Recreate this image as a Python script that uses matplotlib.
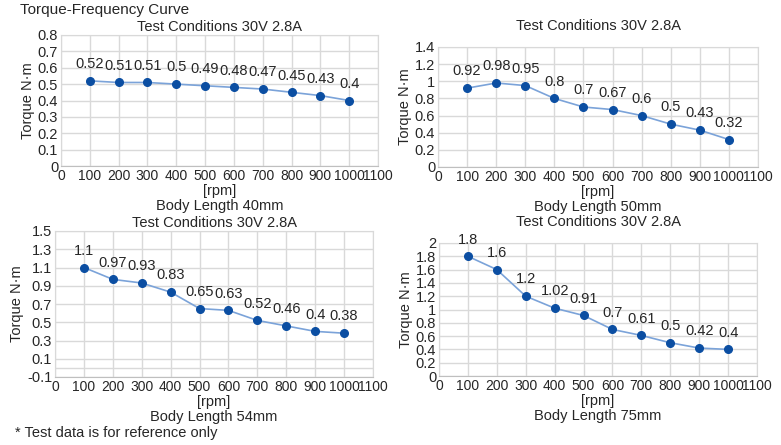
import matplotlib
matplotlib.use('Agg')
import matplotlib.pyplot as plt
import numpy as np

plt.rcParams['font.family'] = ['Liberation Sans', 'DejaVu Sans']

rpm = [100, 200, 300, 400, 500, 600, 700, 800, 900, 1000]
torque_40 = [0.52, 0.51, 0.51, 0.5, 0.49, 0.48, 0.47, 0.45, 0.43, 0.4]
torque_50 = [0.92, 0.98, 0.95, 0.8, 0.7, 0.67, 0.6, 0.5, 0.43, 0.32]
torque_54 = [1.1, 0.97, 0.93, 0.83, 0.65, 0.63, 0.52, 0.46, 0.4, 0.38]
torque_75 = [1.8, 1.6, 1.2, 1.02, 0.91, 0.7, 0.61, 0.5, 0.42, 0.4]
labels = ['Body Length 40mm', 'Body Length 50mm', 'Body Length 54mm', 'Body Length 75mm']
title = 'Test Conditions 30V 2.8A'
x_ticks = np.arange(0, 1101, 100)

W, H = 781, 445
fig = plt.figure(figsize=(W / 100, H / 100), dpi=100)


def px_axes(x0, y0, x1, y1):
    # pixel box (left, top, right, bottom) -> figure fraction
    return fig.add_axes([x0 / W, 1 - y1 / H, (x1 - x0) / W, (y1 - y0) / H])


# box, values, ylim, yticks, title pad (pt)
panels = [
    ((61, 35, 378, 166), torque_40, (0, 0.8), np.arange(0, 0.81, 0.1), 3),
    ((438, 47, 758, 167), torque_50, (0, 1.4), np.arange(0, 1.41, 0.2), 12),
    ((55, 231, 373, 377), torque_54, (-0.1, 1.5), np.arange(-0.1, 1.51, 0.2), 3),
    ((439, 243, 757, 376), torque_75, (0, 2.0), np.arange(0, 2.01, 0.2), 12),
]

grid_c = '#d9d9d9'
txt_c = '#262626'
for (box, vals, ylim, yt, tpad), lab in zip(panels, labels):
    ax = px_axes(*box)
    ax.plot(rpm, vals, color='#7ba3d9', lw=1.2, zorder=3)
    ax.plot(rpm, vals, 'o', color='#0b4ea2', ms=5.5, zorder=4)
    for x, v in zip(rpm, vals):
        ax.annotate(f'{v:g}', (x, v), xytext=(0, 7), textcoords='offset points',
                    ha='center', va='bottom', fontsize=10.5, color=txt_c)
    ax.set_xlim(0, 1100)
    ax.set_ylim(*ylim)
    ax.set_xticks(x_ticks)
    ax.set_yticks(yt)
    ax.set_yticklabels([f'{round(t, 2):g}' for t in yt])
    ax.grid(True, color=grid_c, lw=1)
    ax.set_axisbelow(True)
    if ylim[0] < 0:
        ax.axhline(0, color=grid_c, lw=1, zorder=1)
    for s in ax.spines.values():
        s.set_color(grid_c)
    ax.spines['bottom'].set_color('#bfbfbf')
    ax.tick_params(length=0, labelsize=10.5, colors=txt_c, pad=2)
    ax.tick_params(axis='x', labelsize=10)
    ax.set_title(title, fontsize=10.5, color=txt_c, pad=tpad)
    ax.set_ylabel('Torque N·m', fontsize=10.5, color=txt_c, labelpad=2)
    ax.set_xlabel('[rpm]\n' + lab, fontsize=10.5, color=txt_c, labelpad=1,
                  linespacing=1.1)

fig.text(20 / W, 1 - 10 / H, 'Torque-Frequency Curve', fontsize=11, va='center',
         color=txt_c)
fig.text(15 / W, 1 - 433 / H, '* Test data is for reference only', fontsize=10.5,
         va='center', color=txt_c)

fig.savefig('out.png', dpi=100)
